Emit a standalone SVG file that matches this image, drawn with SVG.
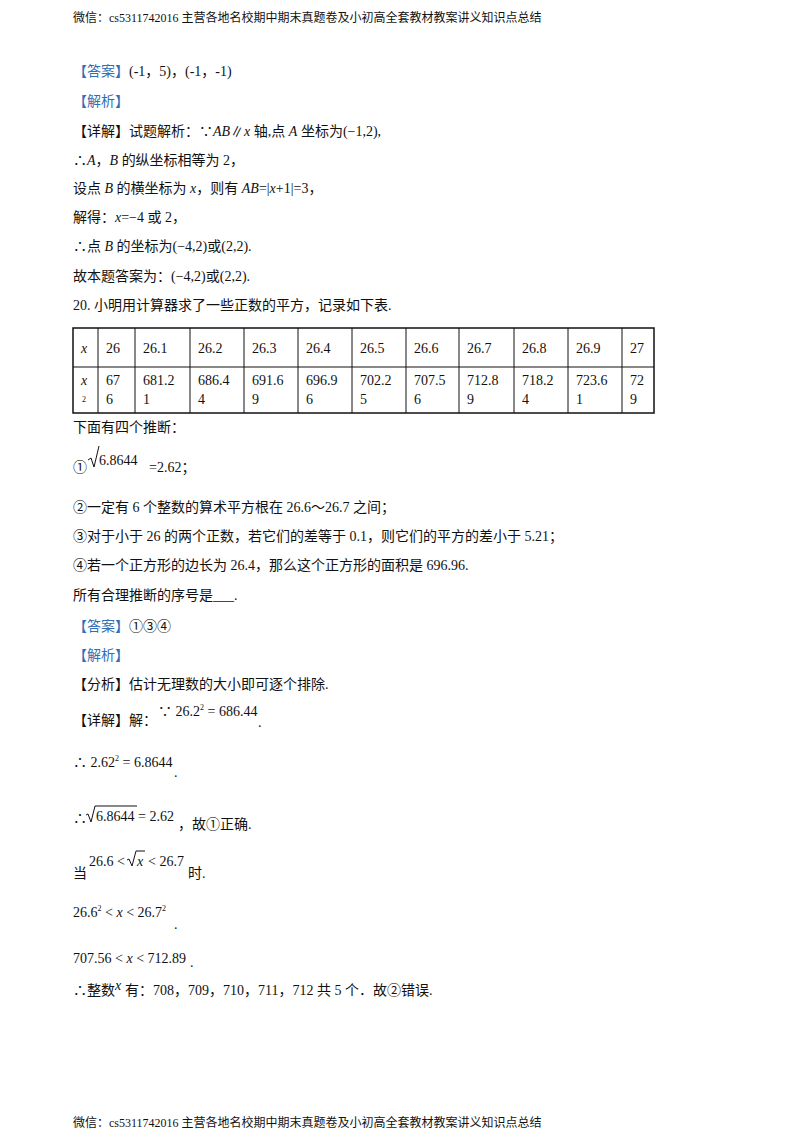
<svg xmlns="http://www.w3.org/2000/svg" width="800" height="1132" viewBox="0 0 800 1132">
<style>
text{font-family:"Liberation Serif","Noto Sans CJK SC",serif;font-size:14px;fill:#111}
.h{font-size:12px}
.b{fill:#2f6fb5}
.i{font-style:italic}
.s{font-size:8px}
line,path{stroke:#111;stroke-width:1;fill:none}
</style>
<rect width="800" height="1132" fill="#fff"/>
<text class="h" x="73" y="22">微信：cs5311742016  主营各地名校期中期末真题卷及小初高全套教材教案讲义知识点总结</text>
<text class="h" x="73" y="1127">微信：cs5311742016  主营各地名校期中期末真题卷及小初高全套教材教案讲义知识点总结</text>
<text x="73" y="76"><tspan class="b">【答案】</tspan>(-1，5)，(-1，-1)</text>
<text x="73" y="106" class="b">【解析】</text>
<text x="73" y="136">【详解】试题解析：∵<tspan class="i">AB</tspan>∥<tspan class="i">x</tspan> 轴,点 <tspan class="i">A</tspan> 坐标为(−1,2),</text>
<text x="73" y="165">∴<tspan class="i">A</tspan>，<tspan class="i">B</tspan> 的纵坐标相等为 2，</text>
<text x="73" y="193">设点 <tspan class="i">B</tspan> 的横坐标为 <tspan class="i">x</tspan>，则有 <tspan class="i">AB</tspan>=|<tspan class="i">x</tspan>+1|=3，</text>
<text x="73" y="222">解得：<tspan class="i">x</tspan>=−4 或 2，</text>
<text x="73" y="251">∴点 <tspan class="i">B</tspan> 的坐标为(−4,2)或(2,2).</text>
<text x="73" y="281">故本题答案为：(−4,2)或(2,2).</text>
<text x="73" y="310">20.  小明用计算器求了一些正数的平方，记录如下表.</text>
<g id="table">
<rect x="73" y="328" width="581" height="85" fill="none" stroke="#111" stroke-width="1.5"/>
<line x1="73" y1="367" x2="654" y2="367"/>
<line x1="98" y1="328" x2="98" y2="413"/><line x1="135" y1="328" x2="135" y2="413"/>
<line x1="190" y1="328" x2="190" y2="413"/><line x1="244" y1="328" x2="244" y2="413"/>
<line x1="298" y1="328" x2="298" y2="413"/><line x1="352" y1="328" x2="352" y2="413"/>
<line x1="406" y1="328" x2="406" y2="413"/><line x1="459" y1="328" x2="459" y2="413"/>
<line x1="514" y1="328" x2="514" y2="413"/><line x1="568" y1="328" x2="568" y2="413"/>
<line x1="622" y1="328" x2="622" y2="413"/>
<text x="81" y="353" class="i">x</text>
<text x="106" y="353">26</text><text x="143" y="353">26.1</text><text x="198" y="353">26.2</text>
<text x="252" y="353">26.3</text><text x="306" y="353">26.4</text><text x="360" y="353">26.5</text>
<text x="414" y="353">26.6</text><text x="467" y="353">26.7</text><text x="522" y="353">26.8</text>
<text x="576" y="353">26.9</text><text x="630" y="353">27</text>
<text x="81" y="385" class="i">x</text><text x="82" y="402" class="s">2</text>
<text x="106" y="385">67</text><text x="106" y="404">6</text>
<text x="143" y="385">681.2</text><text x="143" y="404">1</text>
<text x="198" y="385">686.4</text><text x="198" y="404">4</text>
<text x="252" y="385">691.6</text><text x="252" y="404">9</text>
<text x="306" y="385">696.9</text><text x="306" y="404">6</text>
<text x="360" y="385">702.2</text><text x="360" y="404">5</text>
<text x="414" y="385">707.5</text><text x="414" y="404">6</text>
<text x="467" y="385">712.8</text><text x="467" y="404">9</text>
<text x="522" y="385">718.2</text><text x="522" y="404">4</text>
<text x="576" y="385">723.6</text><text x="576" y="404">1</text>
<text x="630" y="385">72</text><text x="630" y="404">9</text>
</g>
<text x="73" y="432">下面有四个推断：</text>
<text x="73" y="472">①</text>
<path d="M88 460 l3 -2 l3 9 l5 -21"/>
<text x="99" y="465" font-size="16">6.8644</text>
<text x="149" y="472" font-size="15">=2.62；</text>
<text x="73" y="512">②一定有 6 个整数的算术平方根在 26.6～26.7 之间；</text>
<text x="73" y="541">③对于小于 26 的两个正数，若它们的差等于 0.1，则它们的平方的差小于 5.21；</text>
<text x="73" y="570">④若一个正方形的边长为 26.4，那么这个正方形的面积是 696.96.</text>
<text x="73" y="600">所有合理推断的序号是___.</text>
<text x="73" y="631"><tspan class="b">【答案】</tspan>①③④</text>
<text x="73" y="660" class="b">【解析】</text>
<text x="73" y="689">【分析】估计无理数的大小即可逐个排除.</text>
<text x="73" y="725">【详解】解：</text>
<text x="158" y="716">∵ 26.2<tspan class="s" dy="-6">2</tspan><tspan dy="6"> = 686.44</tspan></text>
<text x="258" y="727">.</text>
<text x="73" y="767">∴ 2.62<tspan class="s" dy="-6">2</tspan><tspan dy="6"> = 6.8644</tspan></text>
<text x="174" y="777">.</text>
<text x="73" y="823">∴</text>
<path d="M86 815 l2 -1 l3 8 l4 -16 h42"/>
<text x="96" y="821">6.8644 = 2.62</text>
<text x="178" y="829">，故①正确.</text>
<text x="73" y="878">当</text>
<text x="89" y="866">26.6 &lt;</text>
<path d="M127 860 l2 -1 l3 7 l4 -15 h9"/>
<text x="137" y="866" class="i">x</text>
<text x="148" y="866">&lt; 26.7</text>
<text x="188" y="878">时.</text>
<text x="73" y="917">26.6<tspan class="s" dy="-6">2</tspan><tspan dy="6"> &lt; </tspan><tspan class="i">x</tspan> &lt; 26.7<tspan class="s" dy="-6">2</tspan></text>
<text x="174" y="929">.</text>
<text x="73" y="963">707.56 &lt; <tspan class="i">x</tspan> &lt; 712.89</text>
<text x="190" y="967">.</text>
<text x="73" y="995">∴整数</text>
<text x="115" y="990" class="i" font-size="15">x</text>
<text x="125" y="995">有：708，709，710，711，712 共 5 个．故②错误.</text>
</svg>
